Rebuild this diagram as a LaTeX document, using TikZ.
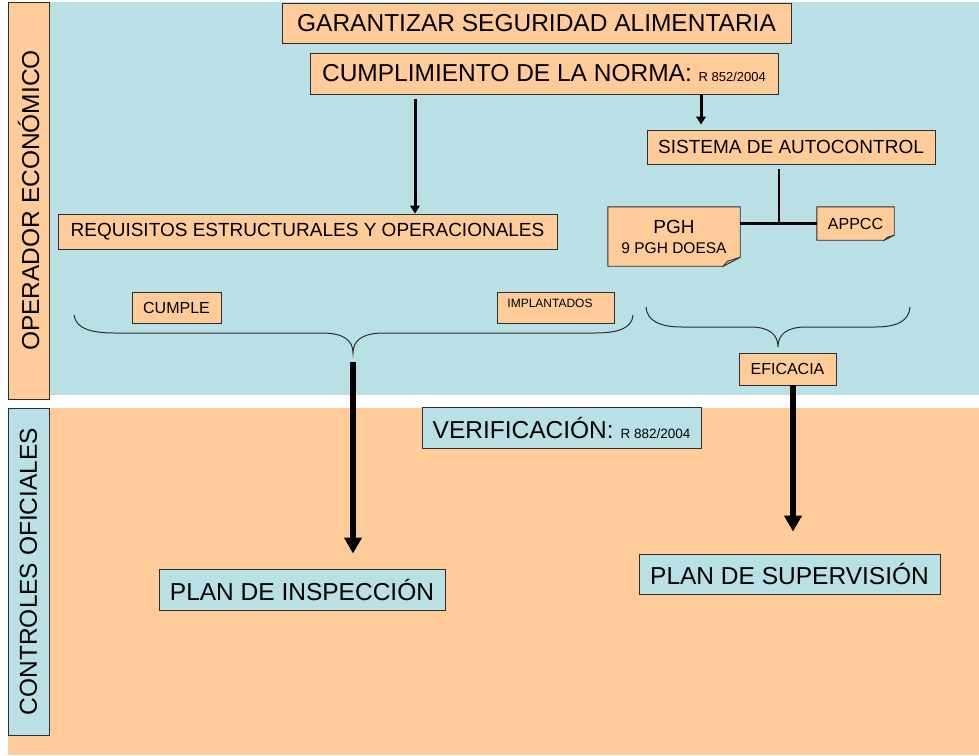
\documentclass[tikz,border=0pt]{standalone}
\usepackage{fontspec}
\setmainfont{Liberation Sans}
\usetikzlibrary{arrows.meta,calc}
\definecolor{peach}{RGB}{255,204,153}
\definecolor{lblue}{RGB}{185,224,228}
\definecolor{edge}{RGB}{45,45,45}
\definecolor{foldc}{RGB}{206,165,124}
\pgfdeclarelayer{back}
\pgfdeclarelayer{mid}
\pgfsetlayers{back,mid,main}
\begin{document}
\begin{tikzpicture}[x=1pt,y=-1pt,
  obox/.style={draw=edge, line width=0.9pt, fill=peach, inner sep=0pt, align=center},
  bbox/.style={draw=edge, line width=0.9pt, fill=lblue, inner sep=0pt, align=center},
  plainbox/.style={inner sep=0pt, align=center},
  bigf/.style={font=\fontsize{24.5}{28}\selectfont},
  medf/.style={font=\fontsize{19}{21}\selectfont},
  smf/.style={font=\fontsize{16}{19}\selectfont},
  tinyf/.style={font=\fontsize{12}{14}\selectfont},
  thinarr/.style={draw=black, line width=3pt, -{Triangle[width=9.5pt,length=8pt]}},
  thickarr/.style={draw=black, line width=6pt, -{Triangle[width=17pt,length=16pt]}},
  treeline/.style={draw=black, line width=2.7pt},
  bracel/.style={draw=edge, line width=1pt}
]
\useasboundingbox (0,0) rectangle (979,755);
\begin{pgfonlayer}{back}
  \fill[white] (0,0) rectangle (979,755);
  \fill[lblue] (49,2) rectangle (979,395);
  \fill[peach] (8,408) rectangle (979,755);
\end{pgfonlayer}

% side labels
\node[obox, bigf, rotate=90, minimum width=397, minimum height=41] (oper) at (28.5,200.5) {OPERADOR ECONÓMICO};
\node[bbox, bigf, rotate=90, minimum width=327, minimum height=41] (ctrl) at (28.5,571.5) {CONTROLES OFICIALES};

% top boxes
\node[obox, bigf, minimum width=509, minimum height=40] (gar) at (536.5,23) {GARANTIZAR SEGURIDAD ALIMENTARIA};
\node[obox, bigf, minimum width=468, minimum height=41] (cump) at (544,73.5) {CUMPLIMIENTO DE LA NORMA: {\fontsize{13}{14}\selectfont R 852/2004}};
\node[obox, medf, minimum width=288, minimum height=34] (sist) at (791,147) {SISTEMA DE AUTOCONTROL};
\node[plainbox, font=\fontsize{19}{20}\selectfont, minimum width=132, minimum height=59] (pgh) at (674,236.5) {PGH\\{\fontsize{15.5}{20}\selectfont 9 PGH DOESA}};
\node[plainbox, smf, minimum width=77, minimum height=33] (appcc) at (855.5,223.5) {APPCC};
\node[obox, medf, minimum width=499, minimum height=35] (req) at (307.5,231.5) {REQUISITOS ESTRUCTURALES Y OPERACIONALES};
\node[obox, smf, minimum width=89, minimum height=31] (cumple) at (176.5,307.5) {CUMPLE};
\node[obox, minimum width=117, minimum height=31,
  label={[tinyf, xshift=-5.5pt, yshift=4.5pt]center:IMPLANTADOS}] (impl) at (555.5,307.5) {};
\node[obox, smf, minimum width=97, minimum height=32] (efi) at (787.5,369) {EFICACIA};

% bottom boxes
\node[bbox, bigf, minimum width=279, minimum height=41] (ver) at (561.5,427.5) {VERIFICACIÓN: {\fontsize{13.5}{14}\selectfont R 882/2004}};
\node[bbox, bigf, minimum width=286, minimum height=41] (pins) at (302,589.5) {PLAN DE INSPECCIÓN};
\node[bbox, bigf, minimum width=301, minimum height=40] (psup) at (789.5,574) {PLAN DE SUPERVISIÓN};

% folded-corner boxes
\begin{pgfonlayer}{mid}
  \filldraw[fill=peach, draw=edge, line width=0.9pt]
    (pgh.north west) -- (pgh.north east) -- ($(pgh.south east)+(0,-9)$)
    -- ($(pgh.south east)+(-17,0)$) -- (pgh.south west) -- cycle;
  \filldraw[fill=foldc, draw=edge, line width=0.7pt]
    ($(pgh.south east)+(0,-9)$) -- ($(pgh.south east)+(-13,-5)$) -- ($(pgh.south east)+(-17,0)$) -- cycle;
  \filldraw[fill=peach, draw=edge, line width=0.9pt]
    (appcc.north west) -- (appcc.north east) -- ($(appcc.south east)+(0,-5)$)
    -- ($(appcc.south east)+(-10,0)$) -- (appcc.south west) -- cycle;
  \filldraw[fill=foldc, draw=edge, line width=0.7pt]
    ($(appcc.south east)+(0,-5)$) -- ($(appcc.south east)+(-7,-3)$) -- ($(appcc.south east)+(-10,0)$) -- cycle;
\end{pgfonlayer}

% connectors
\coordinate (axl) at (415,0);
\coordinate (axr) at (701,0);
\coordinate (tx) at (779,0);
\draw[thinarr] ([yshift=-5pt]cump.south -| axl) -- (req.north -| axl);
\draw[thinarr, shorten >=5pt] (cump.south -| axr) -- (sist.north -| axr);
\draw[treeline] ([yshift=-5pt]sist.south -| tx) -- (tx |- appcc.west);
\draw[treeline] (pgh.east |- appcc.west) -- (appcc.west);

% braces
\coordinate (lbt) at (353,353);
\coordinate (rbt) at (778,347);
\draw[bracel] (74,315) .. controls (76,329) and (92,333) .. (115,333) -- (322,333)
  .. controls (343,333) and (353,340) .. (lbt)
  .. controls (353,340) and (363,333) .. (384,333) -- (594,333)
  .. controls (617,333) and (632,329) .. (633,315);
\draw[bracel] (646,307) .. controls (647,321) and (660,327) .. (682,327) -- (750,327)
  .. controls (770,327) and (778,335) .. (rbt)
  .. controls (778,335) and (786,327) .. (806,327) -- (875,327)
  .. controls (897,327) and (909,321) .. (910,307);

% thick arrows
\coordinate (rx) at (793,0);
\draw[thickarr, shorten >=15pt] ([yshift=-9pt]lbt) -- (lbt |- pins.north);
\draw[thickarr, shorten >=22pt] (efi.south -| rx) -- (rx |- psup.north);
\end{tikzpicture}
\end{document}
